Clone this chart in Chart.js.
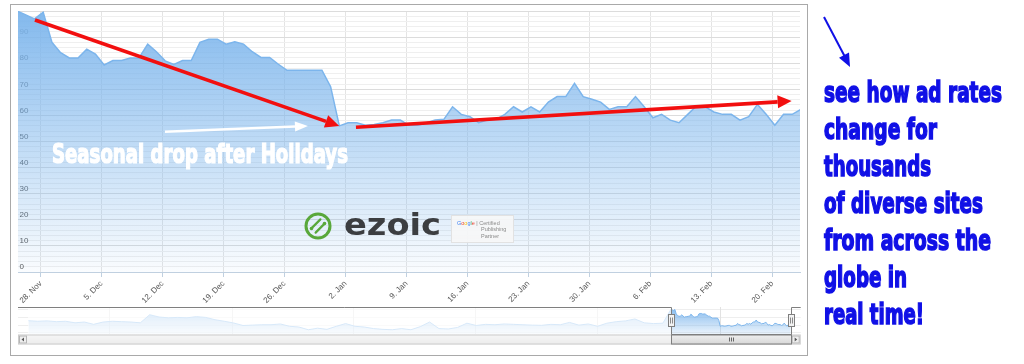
<!DOCTYPE html>
<html>
<head>
<meta charset="utf-8">
<script src="https://cdn.jsdelivr.net/npm/chart.js@4.4.1/dist/chart.umd.min.js"></script>
<style>
  html, body { margin: 0; padding: 0; background: #fff; }
  #page { position: relative; width: 1024px; height: 364px; overflow: hidden; }
  #frame { position: absolute; left: 10px; top: 4px; width: 798px; height: 352px; box-sizing: border-box; border: 1px solid #a9a9a9; }
  #mainChart { position: absolute; left: 0; top: 0; }
  #navChart { position: absolute; left: 0; top: 300px; }
  #note { position: absolute; left: 0; top: 0; }
  #note text { font-family: "Liberation Sans Narrow", "DejaVu Sans Condensed", "Liberation Sans", sans-serif; font-weight: bold; font-size: 28px; fill: #1010e6; stroke: #1010e6; stroke-width: 1.5; }
</style>
</head>
<body>
<div id="page">
  <div id="frame"></div>
  <canvas id="mainChart" width="810" height="305"></canvas>
  <canvas id="navChart" width="810" height="50"></canvas>
  <svg id="note" width="1024" height="364"></svg>
</div>
<script>
// ---- data ----
const DAY = 86400000;
const dayOf = (y, m, d) => Date.UTC(y, m, d) / DAY;

// daily rate, 25 Nov 2016 .. 23 Feb 2017
const rateStart = dayOf(2016, 10, 25);
const rateValues = [
  100, 98.5, 97, 99.5, 88, 84, 82, 82, 85.4, 83.5,
  79.3, 81, 81, 82, 82, 87.3, 84.4, 80.9, 79.5, 81,
  81, 88, 89.2, 89.2, 87.3, 88.2, 87.3, 84.4, 82.2, 82.2,
  79.6, 77.3, 77.3, 77.3, 77.3, 77.3, 71, 56, 57.2, 57.2,
  56.2, 56.5, 57.2, 58.2, 58.2, 56.2, 56.2, 57.2, 58.2, 58.5,
  63.3, 60.4, 59.5, 57.2, 58.2, 58.5, 60.4, 63.3, 61.3, 63.3,
  61.3, 65.1, 67.2, 67.2, 72.3, 67.2, 66.2, 65.1, 62.3, 63.3,
  63.3, 67.2, 63.3, 59.1, 60.4, 58.2, 57.2, 60.4, 63.6, 63.3,
  61.3, 60.4, 60.4, 58.2, 59.5, 64.2, 60.4, 56.2, 60.4, 60.4,
  62.3
];

// weekly history shown in the navigator, from 1 Aug 2015
const historyStart = dayOf(2015, 7, 1);
const historyWeekly = [
  70.5, 69, 70, 68, 69, 65, 67, 61, 67, 69, 68, 67, 65, 86, 80, 78, 79, 78, 81, 79,
  73, 69, 64.5, 58, 59, 60, 60, 62, 56, 54, 47, 51, 48, 56, 63, 56, 54, 50, 48, 47, 50,
  47, 55, 67, 50, 49, 53, 64, 58, 61, 60, 62, 61, 60, 59, 58.5, 61, 60, 66, 59, 62, 56, 64,
  68, 70, 75, 65, 63, 64
];

const axisZero = dayOf(2016, 10, 28);          // first weekly tick
const xTickLabels = ['28. Nov', '5. Dec', '12. Dec', '19. Dec', '26. Dec', '2. Jan', '9. Jan',
  '16. Jan', '23. Jan', '30. Jan', '6. Feb', '13. Feb', '20. Feb'];
const yTickValues = [0, 10, 20, 30, 40, 50, 60, 70, 80, 90];
const viewMin = -2.6, viewMax = 87.18;          // selected range, days from 28 Nov

const navTickLabels = ["Oct '15", "Jan '16", "Apr '16", "Jul '16", "Oct '16", "Jan '17"];
const navTickDates = [[2015, 9, 1], [2016, 0, 1], [2016, 3, 1], [2016, 6, 1], [2016, 9, 1], [2017, 0, 1]];

const sampleTime = 7 / 24;

const noteLines = ['see how ad rates', 'change for', 'thousands', 'of diverse sites',
  'from across the', 'globe in', 'real time!'];

// annotations, in chart units (days from 28 Nov, rate)
const redArrows = [
  { from: [-0.65, 96.55], to: [34.28, 55.94] },
  { from: [36.2, 55.44], to: [86.22, 65.52] }
];
const whiteArrow = { from: [14.27, 53.75], to: [30.69, 55.94] };
const seasonNote = { text: 'Seasonal drop after Holidays', at: [1.3, 41.65], width: 296 };

// ---- helpers ----
const mainPoints = rateValues.map((v, i) => ({ x: rateStart - axisZero + i + sampleTime, y: v }));
const navPoints = historyWeekly.map((v, k) => ({ x: 7 * k + sampleTime, y: v }))
  .concat(rateValues.map((v, i) => ({ x: rateStart - historyStart + i + sampleTime, y: v })));
const navOffset = axisZero - historyStart;

function blueFill(c, top, bottom) {
  const a = c.chart.chartArea;
  if (!a) return 'rgba(124,181,236,0.5)';
  const g = c.chart.ctx.createLinearGradient(0, a.top, 0, a.bottom);
  g.addColorStop(0, 'rgba(124,181,236,' + top + ')');
  g.addColorStop(1, 'rgba(124,181,236,' + bottom + ')');
  return g;
}

function arrow(ctx, x1, y1, x2, y2, color, w, len, half) {
  const ang = Math.atan2(y2 - y1, x2 - x1);
  const bx = x2 - len * Math.cos(ang), by = y2 - len * Math.sin(ang);
  ctx.strokeStyle = color;
  ctx.lineWidth = w;
  ctx.beginPath();
  ctx.moveTo(x1, y1);
  ctx.lineTo(bx, by);
  ctx.stroke();
  ctx.fillStyle = color;
  ctx.beginPath();
  ctx.moveTo(x2, y2);
  ctx.lineTo(bx + half * Math.sin(ang), by - half * Math.cos(ang));
  ctx.lineTo(bx - half * Math.sin(ang), by + half * Math.cos(ang));
  ctx.closePath();
  ctx.fill();
}

// overlays on the main chart: arrows, note, watermark
const overlays = {
  id: 'overlays',
  afterDatasetsDraw(chart) {
    const { ctx, scales: { x, y } } = chart;
    const px = p => [x.getPixelForValue(p[0]), y.getPixelForValue(p[1])];
    ctx.save();

    // watermark logo
    const lc = [318, 226];
    ctx.strokeStyle = '#59a83b';
    ctx.fillStyle = '#59a83b';
    ctx.lineWidth = 3;
    ctx.beginPath();
    ctx.arc(lc[0], lc[1], 12, 0, Math.PI * 2);
    ctx.stroke();
    ctx.lineWidth = 2.2;
    ctx.lineCap = 'round';
    [-3, 3].forEach(o => {
      const cx = lc[0] + o * 0.707, cy = lc[1] + o * 0.707;
      ctx.beginPath();
      ctx.moveTo(cx - 4.5, cy + 4.5);
      ctx.lineTo(cx + 4.5, cy - 4.5);
      ctx.stroke();
    });
    ctx.beginPath(); ctx.arc(lc[0] - 6.5, lc[1] + 2.5, 1.8, 0, Math.PI * 2); ctx.fill();
    ctx.beginPath(); ctx.arc(lc[0] + 6.5, lc[1] - 2.5, 1.8, 0, Math.PI * 2); ctx.fill();
    ctx.lineCap = 'butt';

    ctx.font = 'bold 30px "DejaVu Sans", sans-serif';
    ctx.fillStyle = '#3c3e41';
    ctx.textBaseline = 'alphabetic';
    const ew = ctx.measureText('ezoic').width;
    ctx.save();
    ctx.translate(344, 234.5);
    ctx.scale(97 / ew, 1);
    ctx.fillText('ezoic', 0, 0);
    ctx.restore();

    ctx.fillStyle = 'rgba(247,247,247,0.9)';
    ctx.strokeStyle = '#e2e2e2';
    ctx.lineWidth = 1;
    ctx.fillRect(451, 215, 62, 27);
    ctx.strokeRect(451.5, 215.5, 62, 27);
    ctx.font = '5.5px "Liberation Sans", sans-serif';
    const gCols = ['#4285f4', '#ea4335', '#fbbc05', '#4285f4', '#34a853', '#ea4335'];
    let gx = 457;
    'Google'.split('').forEach((ch, i) => {
      ctx.fillStyle = gCols[i];
      ctx.fillText(ch, gx, 224.5);
      gx += ctx.measureText(ch).width;
    });
    ctx.fillStyle = '#8a8a8a';
    ctx.fillText(' | Certified', gx, 224.5);
    ctx.fillText('Publishing', 481, 231);
    ctx.fillText('Partner', 481, 237.5);

    // red trend arrows
    redArrows.forEach(a => {
      const [x1, y1] = px(a.from), [x2, y2] = px(a.to);
      arrow(ctx, x1, y1, x2, y2, '#f20f0f', 3.6, 14, 6.5);
    });

    // white arrow and note
    const [wx1, wy1] = px(whiteArrow.from), [wx2, wy2] = px(whiteArrow.to);
    arrow(ctx, wx1, wy1, wx2, wy2, '#ffffff', 2.6, 13, 5);

    ctx.font = 'bold 26px "Liberation Sans Narrow", "DejaVu Sans Condensed", sans-serif';
    const sw = ctx.measureText(seasonNote.text).width;
    const [sx, sy] = px(seasonNote.at);
    ctx.translate(sx, sy);
    ctx.scale(seasonNote.width / sw, 1);
    ctx.fillStyle = '#ffffff';
    ctx.strokeStyle = '#ffffff';
    ctx.lineWidth = 1.2;
    ctx.fillText(seasonNote.text, 0, 0);
    ctx.strokeText(seasonNote.text, 0, 0);
    ctx.restore();
  }
};

new Chart(document.getElementById('mainChart').getContext('2d'), {
  type: 'line',
  data: {
    datasets: [{
      data: mainPoints,
      borderColor: '#7cb5ec',
      borderWidth: 1.5,
      backgroundColor: c => blueFill(c, 0.95, 0.04),
      fill: 'origin',
      pointRadius: 0,
      tension: 0
    }]
  },
  options: {
    responsive: false,
    animation: false,
    layout: { padding: { left: 18, right: 10, top: 11, bottom: 0 } },
    plugins: { legend: { display: false }, tooltip: { enabled: false } },
    scales: {
      x: {
        type: 'linear',
        min: viewMin,
        max: viewMax,
        afterBuildTicks: s => { s.ticks = xTickLabels.map((t, i) => ({ value: i * 7 })); },
        afterFit: s => { s.height = 33; },
        ticks: {
          autoSkip: false, minRotation: 45, maxRotation: 45, padding: 2,
          color: '#555555', font: { family: '"Liberation Sans", Arial, sans-serif', size: 8 },
          callback: (v, i) => xTickLabels[i]
        },
        grid: { color: '#e4e4e4', tickColor: '#c0d0e0', tickLength: 5 },
        border: { color: '#c0d0e0' }
      },
      y: {
        min: 0,
        max: 100,
        afterBuildTicks: s => {
          const t = [];
          for (let v = 0; v <= 100; v += 2) t.push({ value: v });
          s.ticks = t;
        },
        afterFit: s => { s.width = 0; },
        ticks: {
          autoSkip: false, mirror: true, padding: 1.5, labelOffset: -5,
          color: '#555555', font: { family: '"Liberation Sans", Arial, sans-serif', size: 8 },
          callback: v => (yTickValues.includes(v) ? String(v) : '')
        },
        grid: {
          drawTicks: false,
          color: c => (c.tick && c.tick.value % 10 === 0 ? '#dcdcdc' : '#efefef')
        },
        border: { display: false }
      }
    }
  },
  plugins: [overlays]
});

// ---- navigator ----
const navDecor = {
  id: 'navDecor',
  beforeDatasetsDraw(chart) {
    const { ctx, chartArea: a, scales: { x, y } } = chart;
    ctx.save();
    ctx.lineWidth = 1;
    ctx.strokeStyle = '#eeeeee';
    [100, 80, 60, 40].forEach(v => {
      const py = Math.round(y.getPixelForValue(v)) + 0.5;
      ctx.beginPath(); ctx.moveTo(a.left - 10, py); ctx.lineTo(a.right + 10, py); ctx.stroke();
    });
    ctx.strokeStyle = '#e2e2e2';
    navTickDates.forEach(d => {
      const p = Math.round(x.getPixelForValue(dayOf(...d) - historyStart)) + 0.5;
      ctx.beginPath(); ctx.moveTo(p, a.top); ctx.lineTo(p, a.bottom); ctx.stroke();
    });
    ctx.restore();
  },
  afterDraw(chart) {
    const { ctx, chartArea: a, scales: { x } } = chart;
    const winL = x.getPixelForValue(navOffset + viewMin);
    const winR = x.getPixelForValue(navOffset + viewMax);
    ctx.save();
    // fade outside the selected range
    ctx.fillStyle = 'rgba(255,255,255,0.7)';
    ctx.fillRect(a.left, a.top, winL - a.left, a.bottom - a.top);
    ctx.fillRect(winR, a.top, a.right - winR, a.bottom - a.top);

    // axis labels
    ctx.font = '7px "Liberation Sans", Arial, sans-serif';
    ctx.fillStyle = '#4a4a4a';
    ctx.textBaseline = 'alphabetic';
    navTickDates.forEach((d, i) => {
      const p = x.getPixelForValue(dayOf(...d) - historyStart);
      ctx.fillText(navTickLabels[i], p + 3, 332);
    });

    // scrollbar
    const sbTop = a.bottom + 0.5, sbH = 10, sbL = a.left - 10, sbR = a.right + 10;
    let g = ctx.createLinearGradient(0, sbTop, 0, sbTop + sbH);
    g.addColorStop(0, '#f6f6f6'); g.addColorStop(1, '#ececec');
    ctx.fillStyle = g;
    ctx.fillRect(sbL, sbTop, sbR - sbL, sbH);
    ctx.strokeStyle = '#cccccc';
    ctx.lineWidth = 1;
    ctx.strokeRect(sbL + 0.5, sbTop + 0.5, sbR - sbL - 1, sbH - 1);
    // buttons
    [[sbL, -1], [sbR - 10, 1]].forEach(([bx, dir]) => {
      ctx.fillStyle = '#eeeeee';
      ctx.fillRect(bx + 1, sbTop + 1, 8, sbH - 2);
      ctx.strokeStyle = '#b5b5b5';
      ctx.strokeRect(bx + 1.5, sbTop + 1.5, 7, sbH - 3);
      ctx.fillStyle = '#555';
      ctx.beginPath();
      const cx = bx + 5, cy = sbTop + sbH / 2;
      ctx.moveTo(cx + dir * 1.5, cy);
      ctx.lineTo(cx - dir * 1, cy - 2);
      ctx.lineTo(cx - dir * 1, cy + 2);
      ctx.closePath();
      ctx.fill();
    });
    // thumb
    g = ctx.createLinearGradient(0, sbTop, 0, sbTop + sbH);
    g.addColorStop(0, '#f0f0f0'); g.addColorStop(1, '#d6d6d6');
    ctx.fillStyle = g;
    ctx.fillRect(winL, sbTop, winR - winL, sbH);
    ctx.strokeStyle = '#7f7f7f';
    ctx.strokeRect(Math.round(winL) + 0.5, sbTop + 0.5, Math.round(winR - winL), sbH - 1);
    ctx.strokeStyle = '#666';
    const mid = Math.round((winL + winR) / 2) + 0.5;
    [-2, 0, 2].forEach(o => {
      ctx.beginPath(); ctx.moveTo(mid + o, sbTop + 3); ctx.lineTo(mid + o, sbTop + 7); ctx.stroke();
    });

    // outline
    ctx.strokeStyle = '#7f7f7f';
    ctx.lineWidth = 1;
    const t = a.top + 0.5, b = a.bottom + 0.5;
    const l = Math.round(winL) + 0.5, r = Math.round(winR) + 0.5;
    ctx.beginPath();
    ctx.moveTo(sbL, t); ctx.lineTo(l, t); ctx.lineTo(l, b);
    ctx.lineTo(r, b); ctx.lineTo(r, t); ctx.lineTo(sbR, t);
    ctx.stroke();

    // handles
    const hc = (a.top + a.bottom) / 2;
    [l, r].forEach(hx => {
      ctx.fillStyle = '#f2f2f2';
      ctx.fillRect(hx - 3, hc - 6, 6, 12);
      ctx.strokeStyle = '#7f7f7f';
      ctx.strokeRect(hx - 3, hc - 6, 6, 12);
      ctx.strokeStyle = '#8a8a8a';
      [-1, 1].forEach(o => {
        ctx.beginPath(); ctx.moveTo(hx + o, hc - 3); ctx.lineTo(hx + o, hc + 3); ctx.stroke();
      });
    });
    ctx.restore();
  }
};

new Chart(document.getElementById('navChart').getContext('2d'), {
  type: 'line',
  data: {
    datasets: [{
      data: navPoints,
      borderColor: '#7cb5ec',
      borderWidth: 1,
      backgroundColor: c => blueFill(c, 0.95, 0.15),
      fill: 'origin',
      pointRadius: 0,
      tension: 0
    }]
  },
  options: {
    responsive: false,
    animation: false,
    layout: { padding: { left: 28, right: 19.3, top: 7, bottom: 16 } },
    plugins: { legend: { display: false }, tooltip: { enabled: false } },
    scales: {
      x: { type: 'linear', display: false, min: 0, max: navOffset + viewMax },
      y: { display: false, min: 36, max: 106 }
    }
  },
  plugins: [navDecor]
});

// ---- side note ----
const svg = document.getElementById('note');
const NS = 'http://www.w3.org/2000/svg';
const noteWidths = [178, 113, 107, 159, 167, 83, 100];
noteLines.forEach((line, i) => {
  const t = document.createElementNS(NS, 'text');
  t.setAttribute('x', 824);
  t.setAttribute('y', 101.5 + i * 37);
  t.setAttribute('textLength', noteWidths[i]);
  t.setAttribute('lengthAdjust', 'spacingAndGlyphs');
  t.textContent = line;
  svg.appendChild(t);
});
const ln = document.createElementNS(NS, 'line');
ln.setAttribute('x1', 824); ln.setAttribute('y1', 17);
ln.setAttribute('x2', 844.5); ln.setAttribute('y2', 56);
ln.setAttribute('stroke', '#1010e6'); ln.setAttribute('stroke-width', 2);
svg.appendChild(ln);
const hd = document.createElementNS(NS, 'polygon');
hd.setAttribute('points', '850,67 849,52.6 839,57.8');
hd.setAttribute('fill', '#1010e6');
svg.appendChild(hd);
</script>
</body>
</html>
